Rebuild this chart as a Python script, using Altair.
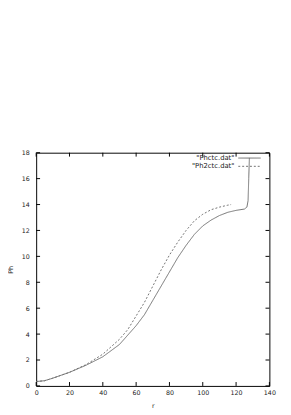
import altair as alt
import pandas as pd

# --- data ---
series_names = ['"Phctc.dat"', '"Ph2ctc.dat"']

r_solid = [0, 5, 10, 20, 30, 40, 50, 60, 65, 70, 75, 80, 85, 90, 95, 100, 105, 110,
           115, 120, 125, 126.5, 127.2, 127.6, 128]
ph_solid = [0.34, 0.4, 0.6, 1.05, 1.6, 2.25, 3.2, 4.65, 5.5, 6.6, 7.7, 8.8, 9.9, 10.85,
            11.7, 12.35, 12.8, 13.15, 13.4, 13.55, 13.65, 13.8, 14.3, 16.0, 17.6]

r_dash = [0, 5, 10, 20, 30, 40, 50, 55, 60, 65, 70, 75, 80, 85, 90, 95, 100, 105,
          110, 115, 117]
ph_dash = [0.34, 0.4, 0.6, 1.05, 1.65, 2.45, 3.6, 4.35, 5.4, 6.45, 7.7, 8.95, 10.1,
           11.1, 12.0, 12.75, 13.25, 13.6, 13.8, 13.95, 14.0]

x_ticks = [0, 20, 40, 60, 80, 100, 120, 140]
y_ticks = [0, 2, 4, 6, 8, 10, 12, 14, 16, 18]

W, H = 240, 240
FONT = "DejaVu Sans"
LINE_COLOR = "#6f6f6f"

df = pd.concat([
    pd.DataFrame({"r": r_solid, "Ph": ph_solid, "series": series_names[0],
                  "i": range(len(r_solid))}),
    pd.DataFrame({"r": r_dash, "Ph": ph_dash, "series": series_names[1],
                  "i": range(len(r_dash))}),
])

xs = alt.Scale(domain=[0, 140], nice=False, zero=False)
ys = alt.Scale(domain=[0, 18], nice=False, zero=False)

xaxis = alt.Axis(values=x_ticks, ticks=False, domain=False, grid=False,
                 labelFont=FONT, labelFontSize=6.5, labelPadding=4, labelColor="#222",
                 labelOverlap=False, labelFlush=False,
                 title="r", titleFont=FONT, titleFontSize=6.5, titleFontWeight="normal",
                 titlePadding=7, titleColor="#222")
yaxis = alt.Axis(values=y_ticks, ticks=False, domain=False, grid=False,
                 labelFont=FONT, labelFontSize=6.5, labelPadding=7, labelColor="#222",
                 labelOverlap=False, labelFlush=False,
                 title="Ph", titleFont=FONT, titleFontSize=6.5, titleFontWeight="normal",
                 titlePadding=8, titleColor="#222")

dash_scale = alt.Scale(domain=series_names, range=[[1, 0], [2, 2]])

lines = alt.Chart(df).mark_line(strokeWidth=1, color=LINE_COLOR).encode(
    x=alt.X("r:Q", scale=xs, axis=xaxis),
    y=alt.Y("Ph:Q", scale=ys, axis=yaxis),
    strokeDash=alt.StrokeDash("series:N", scale=dash_scale, legend=None),
    detail="series:N",
    order="i:Q",
)

xt = pd.DataFrame({"r": x_ticks})
yt = pd.DataFrame({"Ph": y_ticks})
tick_len = 4
ticks_bottom = alt.Chart(xt).mark_rule(color="black", strokeWidth=1).encode(
    x=alt.X("r:Q", scale=xs, axis=xaxis), y=alt.value(H), y2=alt.value(H - tick_len))
ticks_top = alt.Chart(xt).mark_rule(color="black", strokeWidth=1).encode(
    x=alt.X("r:Q", scale=xs, axis=xaxis), y=alt.value(0), y2=alt.value(tick_len))
ticks_left = alt.Chart(yt).mark_rule(color="black", strokeWidth=1).encode(
    y=alt.Y("Ph:Q", scale=ys, axis=yaxis), x=alt.value(0), x2=alt.value(tick_len))
ticks_right = alt.Chart(yt).mark_rule(color="black", strokeWidth=1).encode(
    y=alt.Y("Ph:Q", scale=ys, axis=yaxis), x=alt.value(W), x2=alt.value(W - tick_len))

leg_df = pd.DataFrame({"name": series_names, "row": [0, 1]})
row_y = [5.5, 14]
leg_text = []
leg_lines = []
for k, name in enumerate(series_names):
    sub = leg_df[leg_df["row"] == k]
    leg_text.append(alt.Chart(sub).mark_text(
        align="right", baseline="middle", font=FONT, fontSize=7, color="#222").encode(
        text="name:N", x=alt.value(204), y=alt.value(row_y[k])))
    leg_lines.append(alt.Chart(sub).mark_rule(
        color=LINE_COLOR, strokeWidth=1,
        strokeDash=[1, 0] if k == 0 else [2, 2]).encode(
        x=alt.value(208), x2=alt.value(231), y=alt.value(row_y[k])))

chart = alt.layer(
    lines, ticks_bottom, ticks_top, ticks_left, ticks_right, *leg_text, *leg_lines
).properties(
    width=W, height=H,
    autosize=alt.AutoSizeParams(type="none"),
    padding={"left": 29, "top": 143, "right": 14, "bottom": 24},
    background="white",
).configure_view(stroke="black", strokeWidth=1).configure_axis(labelOverlap=False)

chart.save("out.html", embed_options={"renderer": "svg", "actions": False})
